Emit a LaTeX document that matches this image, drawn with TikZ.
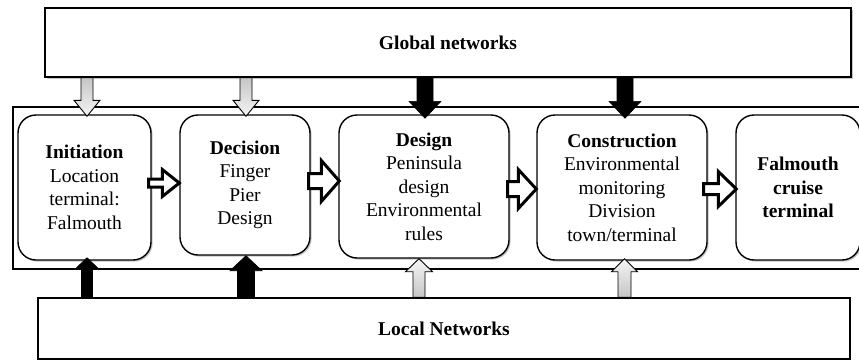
\documentclass[tikz,border=0pt]{standalone}
\usepackage{fontspec}
\setmainfont{Liberation Serif}
\usetikzlibrary{calc,shadows}
\newcommand\arrDown[6]{\path[#1] ($(#2)+(-#4,0)$) -- ($(#3)+(-#4,-#6)$) -- ($(#3)+(-#5,-#6)$) -- (#3) -- ($(#3)+(#5,-#6)$) -- ($(#3)+(#4,-#6)$) -- ($(#2)+(#4,0)$) -- cycle;}
\newcommand\arrUp[6]{\path[#1] ($(#2)+(-#4,0)$) -- ($(#3)+(-#4,#6)$) -- ($(#3)+(-#5,#6)$) -- (#3) -- ($(#3)+(#5,#6)$) -- ($(#3)+(#4,#6)$) -- ($(#2)+(#4,0)$) -- cycle;}
\newcommand\arrRight[6]{\path[#1] ($(#2)+(0,-#4)$) -- ($(#3)+(-#6,-#4)$) -- ($(#3)+(-#6,-#5)$) -- (#3) -- ($(#3)+(-#6,#5)$) -- ($(#3)+(-#6,#4)$) -- ($(#2)+(0,#4)$) -- cycle;}
\tikzset{
  txt/.style={font=\fontsize{19.5}{23.5}\selectfont},
  rbox/.style={txt, draw, line width=1.4pt, rounded corners=18pt, fill=white, align=center, inner sep=0pt,
    drop shadow={shadow xshift=1.6pt, shadow yshift=-1.6pt, opacity=0.45}},
  netbox/.style={txt, draw, line width=1.2pt, fill=white, inner sep=0pt, font=\fontsize{19.5}{23.5}\selectfont\bfseries},
  shad/.style={drop shadow={shadow xshift=1.6pt, shadow yshift=-1.6pt, opacity=0.45}},
  frame/.style={draw, line width=1.2pt},
  whitearrow/.style={draw, fill=white, line width=3pt},
  grayDown/.style={draw, line width=0.9pt, top color=gray!45, bottom color=gray!8},
  grayUp/.style={draw, line width=0.9pt, top color=gray!8, bottom color=gray!45},
  blackarrow/.style={draw, fill=black, line width=0.6pt},
}
\begin{document}
\begin{tikzpicture}[x=1pt,y=-1pt]
\useasboundingbox (0,0) rectangle (859,360);
\clip (0,0) rectangle (859,360);
% container frame
\draw[frame] (13,107) rectangle (880,269);
% network boxes
\node[netbox, shad, minimum width=806pt, minimum height=69pt] (glob) at (448,42.5) {Global networks};
\node[netbox, minimum width=812pt, minimum height=61pt] (loc) at (444,328.5) {Local Networks};
% stage boxes
\node[rbox, minimum width=133pt, minimum height=145pt] (b1) at (84.5,187.5) {\textbf{Initiation}\\Location\\terminal:\\Falmouth};
\node[rbox, minimum width=130pt, minimum height=140pt] (b2) at (245,185) {\textbf{Decision}\\Finger\\Pier\\Design};
\node[rbox, minimum width=170pt, minimum height=143pt] (b3) at (424,186.5) {\textbf{Design}\\Peninsula\\design\\Environmental\\rules};
\node[rbox, minimum width=170pt, minimum height=145pt] (b4) at (622,187.5) {\textbf{Construction}\\Environmental\\monitoring\\Division\\town/terminal};
\node[rbox, minimum width=124pt, minimum height=145pt] (b5) at (798,187.5) {\textbf{Falmouth}\\\textbf{cruise}\\\textbf{terminal}};
% down arrows from global networks
\coordinate (d1t) at ($(b1.north)+(2.5,2)$);
\coordinate (d2t) at ($(b2.north)+(1,2)$);
\coordinate (d3t) at ($(b3.north)+(1,4)$);
\coordinate (d4t) at ($(b4.north)+(3,4)$);
\coordinate (d1s) at (glob.south -| d1t);
\coordinate (d2s) at (glob.south -| d2t);
\coordinate (d3s) at (glob.south -| d3t);
\coordinate (d4s) at (glob.south -| d4t);
\arrDown{grayDown}{d1s}{d1t}{6}{13}{16}
\arrDown{grayDown}{d2s}{d2t}{6}{13}{16}
\arrDown{blackarrow}{d3s}{d3t}{8}{16}{17}
\arrDown{blackarrow}{d4s}{d4t}{8}{16}{17}
% up arrows from local networks
\coordinate (u1t) at ($(b1.south)+(2.5,-3)$);
\coordinate (u2t) at ($(b2.south)+(1,0)$);
\coordinate (u3t) at ($(b3.south)+(-5,0)$);
\coordinate (u4t) at ($(b4.south)+(2.5,-2)$);
\coordinate (u1s) at (loc.north -| u1t);
\coordinate (u2s) at (loc.north -| u2t);
\coordinate (u3s) at (loc.north -| u3t);
\coordinate (u4s) at (loc.north -| u4t);
\arrUp{blackarrow}{u1s}{u1t}{5.5}{11.5}{11}
\arrUp{blackarrow}{u2s}{u2t}{8.5}{16}{15}
\arrUp{grayUp}{u3s}{u3t}{6}{13.5}{13}
\arrUp{grayUp}{u4s}{u4t}{6.5}{13}{13}
% white arrows between stages
\coordinate (r1s) at ($(b1.east)+(-3,-4.5)$);
\coordinate (r1t) at (b2.west |- r1s);
\coordinate (r2s) at ($(b2.east)+(-2,-4)$);
\coordinate (r2t) at ($(b3.west |- r2s)+(1,0)$);
\coordinate (r3s) at ($(b3.east)+(-2,2.5)$);
\coordinate (r3t) at (b4.west |- r3s);
\coordinate (r4s) at ($(b4.east)+(-4,1.5)$);
\coordinate (r4t) at ($(b5.west |- r4s)+(1,0)$);
\arrRight{whitearrow}{r1s}{r1t}{4}{13.5}{17}
\arrRight{whitearrow}{r2s}{r2t}{7.5}{20.5}{18}
\arrRight{whitearrow}{r3s}{r3t}{7.5}{19.5}{18}
\arrRight{whitearrow}{r4s}{r4t}{5.5}{17.5}{18}
\end{tikzpicture}
\end{document}
